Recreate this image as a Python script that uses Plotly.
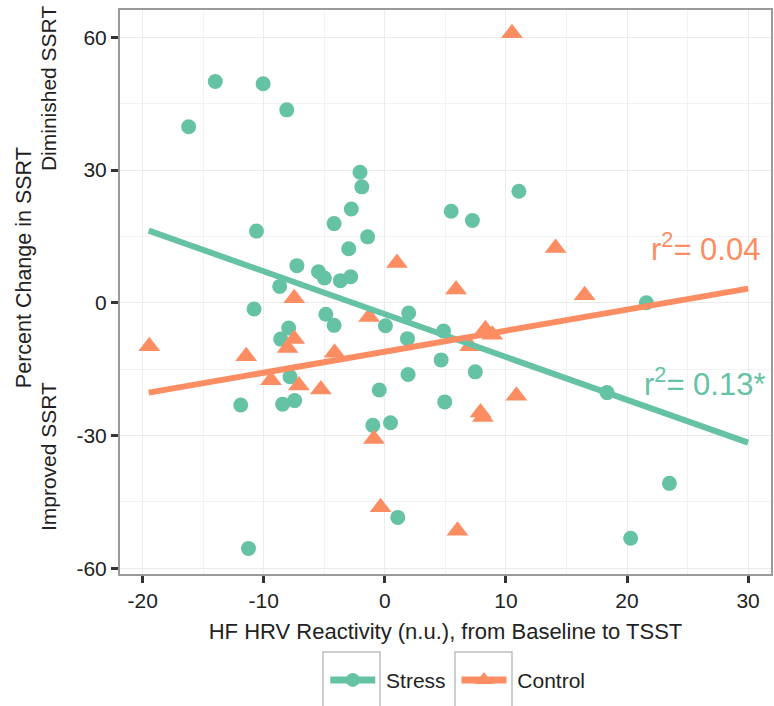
import plotly.graph_objects as go

# ---- data ----
stress_x = [-16.2, -14.0, -10.05, -8.1, -2.05, -1.9, -2.77, -4.19, -1.42, -10.6,
            -2.98, -7.26, -5.48, -4.99, -3.67, -2.82, -8.68, 11.07, 5.48, 7.23,
            21.6, -10.8, -4.87, -4.19, 1.97, 0.05, -7.94, -8.6, 1.87, 4.85,
            4.65, 7.47, 1.92, -7.83, -0.46, 4.95, 18.35, -11.9, -8.44, -7.45,
            -0.99, 0.47, 1.07, -11.26, 23.5, 20.3]
stress_y = [39.8, 50.0, 49.5, 43.6, 29.5, 26.2, 21.2, 17.9, 14.9, 16.2,
            12.2, 8.4, 7.0, 5.6, 5.0, 5.9, 3.7, 25.2, 20.7, 18.6,
            0.0, -1.4, -2.6, -5.1, -2.3, -5.2, -5.7, -8.2, -8.1, -6.4,
            -12.9, -15.6, -16.2, -16.7, -19.7, -22.4, -20.3, -23.1, -22.9, -22.1,
            -27.7, -27.1, -48.5, -55.5, -40.8, -53.2]

control_x = [10.5, 1.0, 14.1, 5.88, 16.5, -7.48, -1.3, -7.48, -8.03, -19.45,
             -11.45, -4.15, -9.4, -7.1, -5.28, 8.3, 8.87, 7.04, 10.87, 7.9,
             8.1, -0.9, -0.35, 6.0]
control_y = [60.9, 9.0, 12.4, 3.0, 1.7, 1.0, -3.2, -8.2, -10.2, -9.8,
             -12.1, -11.3, -17.5, -18.7, -19.6, -6.0, -7.2, -9.8, -21.0, -24.8,
             -25.8, -30.8, -46.2, -51.5]

fit_x = [-19.5, 30.0]
stress_fit = [16.3, -31.6]
control_fit = [-20.3, 3.2]

x_ticks = [-20, -10, 0, 10, 20, 30]
y_ticks = [-60, -30, 0, 30, 60]

GREEN = "#66C2A5"
ORANGE = "#FC8D62"
FONT = "Liberation Sans, Arial, sans-serif"
TXT = "#222222"
NB = "\u00a0"

fig = go.Figure()
fig.add_trace(go.Scatter(x=stress_x, y=stress_y, mode="markers", showlegend=False,
                         marker=dict(symbol="circle", size=15, color=GREEN)))
fig.add_trace(go.Scatter(x=control_x, y=control_y, mode="markers", showlegend=False,
                         marker=dict(symbol="triangle-up", size=19, color=ORANGE)))
fig.add_trace(go.Scatter(x=fit_x, y=stress_fit, mode="lines", showlegend=False,
                         line=dict(color=GREEN, width=6)))
fig.add_trace(go.Scatter(x=fit_x, y=control_fit, mode="lines", showlegend=False,
                         line=dict(color=ORANGE, width=6)))
# legend entries
fig.add_trace(go.Scatter(x=[None], y=[None], mode="lines+markers", name=NB + "Stress" + NB,
                         line=dict(color=GREEN, width=7),
                         marker=dict(symbol="circle", size=14, color=GREEN)))
fig.add_trace(go.Scatter(x=[None], y=[None], mode="lines+markers", name=NB + "Control",
                         line=dict(color=ORANGE, width=7),
                         marker=dict(symbol="triangle-up", size=16, color=ORANGE)))

axis_common = dict(
    showgrid=True, gridcolor="#EBEBEB", gridwidth=1.3,
    showline=True, linecolor="#9a9a9a", linewidth=2, mirror=True,
    ticks="outside", ticklen=7, tickwidth=2.5, tickcolor="#333333",
    tickfont=dict(family=FONT, size=21, color=TXT),
    zeroline=False,
)

fig.update_layout(
    width=774, height=706,
    margin=dict(l=120, r=1, t=10, b=132),
    paper_bgcolor="white", plot_bgcolor="white",
    font=dict(family=FONT, size=21, color=TXT),
    xaxis=dict(range=[-21.87, 31.89], tickvals=x_ticks, ticktext=[str(v) for v in x_ticks],
               title=dict(text="HF HRV Reactivity (n.u.), from Baseline to TSST",
                          font=dict(family=FONT, size=22, color=TXT), standoff=12),
               minor=dict(dtick=5, tick0=0, showgrid=True, gridcolor="#F2F2F2", gridwidth=0.8, ticks=""),
               **axis_common),
    yaxis=dict(range=[-61.29, 66.17], tickvals=y_ticks, ticktext=[str(v) for v in y_ticks],
               minor=dict(dtick=15, tick0=0, showgrid=True, gridcolor="#F2F2F2", gridwidth=0.8, ticks=""),
               **axis_common),
    legend=dict(orientation="h", x=0.3153, xanchor="left", y=-0.152, yanchor="top",
                font=dict(family=FONT, size=21, color=TXT), bgcolor="rgba(0,0,0,0)",
                itemwidth=45),
    annotations=[
        dict(text="r<sup>2</sup>= 0.04", x=26.5, y=12.7, xref="x", yref="y", showarrow=False,
             font=dict(family=FONT, size=31, color=ORANGE)),
        dict(text="r<sup>2</sup>= 0.13*", x=26.4, y=-18.0, xref="x", yref="y", showarrow=False,
             font=dict(family=FONT, size=31, color=GREEN)),
        dict(text="Percent Change in SSRT", textangle=-90, xref="paper", yref="paper",
             x=-96/652, y=(574-268)/564, showarrow=False, xanchor="center", yanchor="middle",
             font=dict(family=FONT, size=21.5, color=TXT)),
        dict(text="Diminished SSRT", textangle=-90, xref="paper", yref="paper",
             x=-72/652, y=(574-88)/564, showarrow=False, xanchor="center", yanchor="middle",
             font=dict(family=FONT, size=21, color=TXT)),
        dict(text="Improved SSRT", textangle=-90, xref="paper", yref="paper",
             x=-72/652, y=(574-457)/564, showarrow=False, xanchor="center", yanchor="middle",
             font=dict(family=FONT, size=21, color=TXT)),
    ],
    shapes=[
        dict(type="rect", xref="paper", yref="paper", xsizemode="pixel", ysizemode="pixel",
             xanchor=0, yanchor=0, x0=203, x1=260, y0=-78, y1=-150,
             line=dict(color="#BEBEBE", width=1.5), fillcolor="rgba(0,0,0,0)", layer="below"),
        dict(type="rect", xref="paper", yref="paper", xsizemode="pixel", ysizemode="pixel",
             xanchor=0, yanchor=0, x0=335, x1=392, y0=-78, y1=-150,
             line=dict(color="#BEBEBE", width=1.5), fillcolor="rgba(0,0,0,0)", layer="below"),
    ],
)

fig.write_html("out.html")
